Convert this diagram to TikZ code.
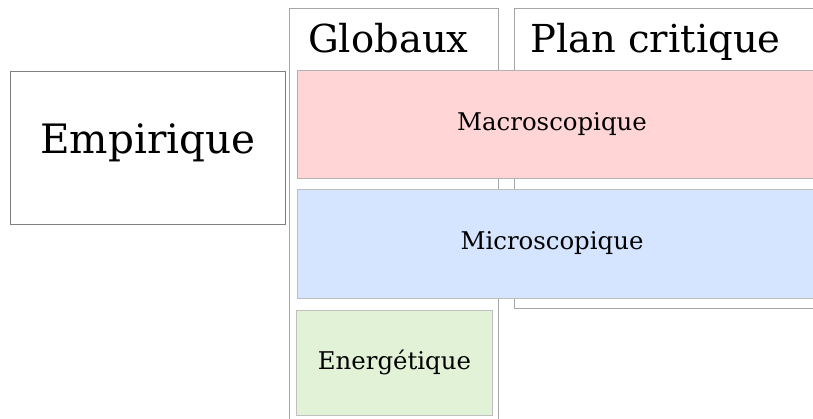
\documentclass[tikz,border=0pt]{standalone}
\usepackage{fontspec}
\setmainfont{DejaVu Serif}
\usetikzlibrary{positioning}

\definecolor{macrofill}{HTML}{FFD5D5}
\definecolor{microfill}{HTML}{D5E5FF}
\definecolor{energfill}{HTML}{E2F2D7}

\tikzset{
  box/.style={draw=black!50, line width=0.9pt, rectangle, inner sep=0pt, anchor=north west},
  column/.style={draw=black!35, line width=0.9pt, rectangle, inner sep=0pt, anchor=north west},
  head/.style={anchor=base west, inner sep=0pt, font=\fontsize{38.5}{42}\selectfont},
  label/.style={inner sep=0pt, font=\fontsize{24.4}{28}\selectfont}
}

\begin{document}
\begin{tikzpicture}[x=1pt,y=-1pt]
  \path[use as bounding box] (0,0) rectangle (813,419);
  \clip (0,0) rectangle (813,419);
  % colonnes
  \node[column, minimum width=209pt, minimum height=500pt] (globaux) at (289,8) {};
  \node[column, minimum width=400pt, minimum height=300pt] (plan) at (514,8) {};
  \node[head] (globauxtxt) at (308,53) {Globaux};
  \node[head] (plantxt) at (530,53) {Plan critique};
  % empirique
  \node[box, minimum width=275pt, minimum height=153pt] (empirique) at (10,71) {};
  \node[inner sep=0pt, font=\fontsize{40.5}{46}\selectfont] (empiriquetxt) at ([yshift=5pt]empirique.center) {Empirique};
  % bandes
  \node[box, draw=black!30, fill=macrofill, minimum width=600pt, minimum height=108pt] (macro) at (297,70) {};
  \node[box, draw=black!25, fill=microfill, minimum width=600pt, minimum height=109pt] (micro) at (297,189) {};
  \node[box, draw=black!25, fill=energfill, minimum width=196pt, minimum height=105pt] (energ) at (296,310) {};
  \node[label] (macrotxt) at (552,124) {Macroscopique};
  \node[label] (microtxt) at (552,243) {Microscopique};
  \node[label] (energtxt) at (energ.center) {Energétique};
\end{tikzpicture}
\end{document}
